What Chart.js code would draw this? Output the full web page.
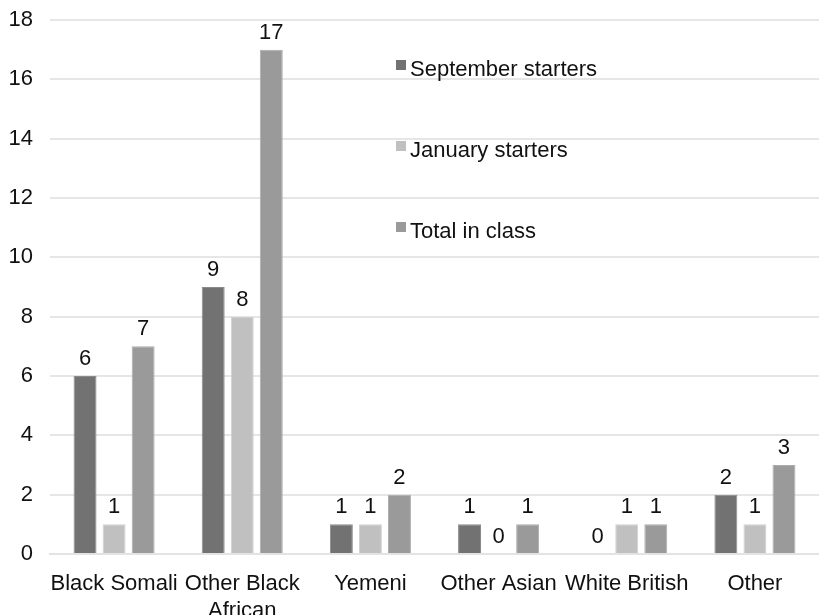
<!DOCTYPE html>
<html>
<head>
<meta charset="utf-8">
<script src="https://cdn.jsdelivr.net/npm/chart.js@4/dist/chart.umd.min.js"></script>
<style>
  html, body { margin: 0; padding: 0; background: #fff; }
  #wrap { width: 819px; height: 615px; }
</style>
</head>
<body>
<div id="wrap"><canvas id="classChart"></canvas></div>
<script>
// data
const categories = ['Black Somali', ['Other Black', 'African'], 'Yemeni', 'Other Asian', 'White British', 'Other'];
const septemberStarters = [6, 9, 1, 1, 0, 2];
const januaryStarters = [1, 8, 1, 0, 1, 1];
const totalInClass = [7, 17, 2, 1, 1, 3];
const yTicks = [0, 2, 4, 6, 8, 10, 12, 14, 16, 18];

const FONT = '"Liberation Sans", Arial, Helvetica, sans-serif';

// numbers above every bar
const valueLabels = {
  id: 'valueLabels',
  afterDatasetsDraw(chart) {
    const ctx = chart.ctx;
    ctx.save();
    ctx.font = '22px ' + FONT;
    ctx.fillStyle = '#111';
    ctx.textAlign = 'center';
    ctx.textBaseline = 'alphabetic';
    chart.data.datasets.forEach((ds, i) => {
      chart.getDatasetMeta(i).data.forEach((bar, j) => {
        ctx.fillText(ds.data[j], bar.x, bar.y - 11);
      });
    });
    ctx.restore();
  }
};

// legend sits inside the plot, stacked with wide gaps
const floatingLegend = {
  id: 'floatingLegend',
  afterDraw(chart) {
    const ctx = chart.ctx;
    ctx.save();
    ctx.font = '22px ' + FONT;
    ctx.textBaseline = 'middle';
    chart.data.datasets.forEach((ds, i) => {
      const y = 69 + i * 81;
      ctx.fillStyle = ds.backgroundColor;
      ctx.fillRect(396, y - 9, 10, 10);
      ctx.fillStyle = '#111';
      ctx.fillText(ds.label, 410, y + 1);
    });
    ctx.restore();
  }
};

const ctx = document.getElementById('classChart').getContext('2d');
new Chart(ctx, {
  type: 'bar',
  data: {
    labels: categories,
    datasets: [
      { label: 'September starters', data: septemberStarters, backgroundColor: '#727272', borderColor: '#8a8a8a', borderWidth: 1 },
      { label: 'January starters', data: januaryStarters, backgroundColor: '#c0c0c0', borderColor: '#d0d0d0', borderWidth: 1 },
      { label: 'Total in class', data: totalInClass, backgroundColor: '#9a9a9a', borderColor: '#adadad', borderWidth: 1 }
    ]
  },
  options: {
    responsive: true,
    maintainAspectRatio: false,
    animation: false,
    categoryPercentage: 0.68,
    barPercentage: 0.79,
    layout: { padding: { top: 20, right: 0, left: 0, bottom: 0 } },
    plugins: {
      legend: { display: false },
      tooltip: { enabled: false }
    },
    scales: {
      x: {
        grid: { display: false, drawTicks: false },
        border: { display: true, color: '#e3e3e3', width: 2 },
        ticks: {
          color: '#111',
          font: { family: FONT, size: 22 },
          padding: 17,
          maxRotation: 0,
          autoSkip: false
        },
        afterFit: scale => {
          scale.height = 61;
          scale.paddingLeft = 0;
          scale.paddingRight = 0;
        }
      },
      y: {
        min: 0,
        max: 18,
        afterBuildTicks: scale => { scale.ticks = yTicks.map(v => ({ value: v })); },
        grid: { color: '#e6e6e6', lineWidth: 2, drawTicks: false },
        border: { display: false },
        ticks: {
          color: '#111',
          font: { family: FONT, size: 22 },
          padding: 17
        },
        afterFit: scale => {
          scale.width = 50;
          scale.paddingTop = 0;
          scale.paddingBottom = 0;
        }
      }
    }
  },
  plugins: [valueLabels, floatingLegend]
});
</script>
</body>
</html>
